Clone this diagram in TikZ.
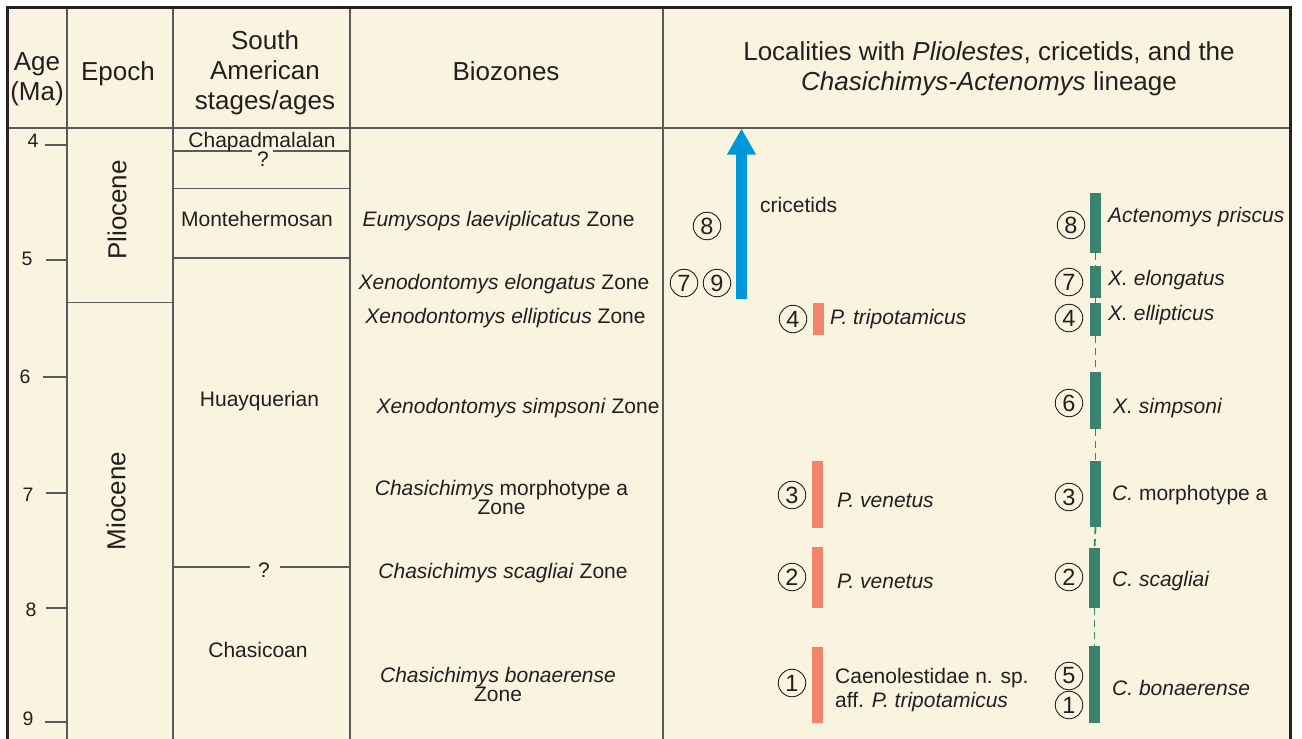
\documentclass[tikz,border=0pt]{standalone}
\usepackage{fontspec}
\setmainfont{Liberation Sans}
\usetikzlibrary{arrows.meta}
\definecolor{cream}{RGB}{249,244,224}
\definecolor{gridc}{RGB}{90,90,90}
\definecolor{framec}{RGB}{34,34,34}
\definecolor{txt}{RGB}{35,31,32}
\definecolor{salmonbar}{RGB}{243,132,106}
\definecolor{tealbar}{RGB}{58,131,113}
\definecolor{bluearrow}{RGB}{0,150,218}
\tikzset{
 hdr/.style={font=\fontsize{26}{30}\selectfont, text=txt, align=center, inner sep=0pt, anchor=base},
 body/.style={font=\fontsize{21}{21}\selectfont, text=txt, align=center, inner sep=0pt, anchor=base},
 lab/.style={font=\fontsize{21}{24}\selectfont, text=txt, align=left, inner sep=0pt, anchor=base west},
 agelab/.style={font=\fontsize{19.5}{20}\selectfont, text=txt, inner sep=0pt, anchor=base},
 circ/.style={circle, draw=txt, line width=0.9pt, minimum size=27.5pt, inner sep=0pt, font=\fontsize{23.5}{23.5}\selectfont, text=txt},
 pbar/.style={rectangle, fill=salmonbar, draw=none, minimum width=11pt, inner sep=0pt},
 cbar/.style={rectangle, fill=tealbar, draw=none, minimum width=10.5pt, inner sep=0pt},
 gridline/.style={draw=gridc, line width=1.3pt},
 lineage/.style={draw=tealbar, line width=1.8pt, dash pattern=on 7pt off 5pt},
}
\begin{document}
\begin{tikzpicture}[x=1pt,y=-1pt]
\useasboundingbox (0,0) rectangle (1302,739);
\fill[cream] (7.5,7.5) rectangle (1290.5,745);
% grid
\foreach \x in {67,173,350,663} \draw[gridline] (\x,7.5) -- (\x,745);
\draw[gridline] (7.5,128) -- (1290.5,128);
\draw[gridline] (67,302.5) -- (173,302.5);
\draw[gridline] (173,151) -- (252,151) (273,151) -- (350,151);
\draw[gridline] (173,188.5) -- (350,188.5);
\draw[gridline] (173,258) -- (350,258);
\draw[gridline] (173,567) -- (250,567) (280,567) -- (350,567);
\foreach \y/\x in {145/45,260/46,377/43,493/46,608/46,722/45} \draw[gridline] (\x,\y) -- (67,\y);
\draw[framec, line width=2.6pt] (7.5,745) -- (7.5,7.5) -- (1290.5,7.5) -- (1290.5,745);

% headers (multi-line nodes: base = last line)
\node[hdr] (hage) at (37,100) {Age\\(Ma)};
\node[hdr] (hepoch) at (118,80) {Epoch};
\node[hdr] (hstage) at (265,109) {South\\American\\stages/ages};
\node[hdr] (hbio) at (506,80) {Biozones};
\node[hdr] (hloc) at (989,90.5) {Localities with \textit{Pliolestes}, cricetids, and the\\\textit{Chasichimys-Actenomys} lineage};

% age labels
\node[agelab] (a4) at (33,147) {4};
\node[agelab] (a5) at (27,265) {5};
\node[agelab] (a6) at (25,383) {6};
\node[agelab] (a7) at (28,501) {7};
\node[agelab] (a8) at (31,616) {8};
\node[agelab] (a9) at (28,725) {9};

% epochs
\node[hdr, rotate=90, anchor=center] (plio) at (117,210) {Pliocene};
\node[hdr, rotate=90, anchor=center] (mio) at (116,501) {Miocene};

% stages
\node[body] (chap) at (262,147) {Chapadmalalan};
\node[body] (q1) at (263,166) {?};
\node[body] (monte) at (257,226) {Montehermosan};
\node[body] (huay) at (259.5,406) {Huayquerian};
\node[body] (q2) at (264,577) {?};
\node[body] (chasi) at (258,657) {Chasicoan};

% biozones
\node[body] (z1) at (498.5,226) {\textit{Eumysops laeviplicatus} Zone};
\node[body] (z2) at (504,289) {\textit{Xenodontomys elongatus} Zone};
\node[body] (z3) at (505.5,323) {\textit{Xenodontomys ellipticus} Zone};
\node[body] (z4) at (518,413) {\textit{Xenodontomys simpsoni} Zone};
\node[body] (z5) at (501.5,514.5) {\textit{Chasichimys} morphotype a\\[-2pt]Zone};
\node[body] (z6) at (503,578) {\textit{Chasichimys scagliai} Zone};
\node[body] (z7) at (498,701.5) {\textit{Chasichimys bonaerense}\\[-2pt]Zone};

% cricetids arrow
\coordinate (arrowfoot) at (741.5,299);
\coordinate (arrowtip) at (741.5,128.5);
\draw[draw=bluearrow, line width=11pt, -{Triangle[width=27pt,length=26pt,fill=bluearrow]}] (arrowfoot) -- (arrowtip);
\node[lab] (cric) at (760,212) {cricetids};
\node[circ] (l8) at (707,226) {8};
\node[circ] (l7) at (684,283) {7};
\node[circ] (l9) at (717,283) {9};

% Pliolestes
\node[pbar, minimum height=32pt] (p4) at (818.5,319) {};
\node[pbar, minimum height=67pt] (p3) at (817.5,494.5) {};
\node[pbar, minimum height=61pt] (p2) at (817.5,577.5) {};
\node[pbar, minimum height=76pt] (p1) at (817.5,685) {};
\node[circ] (l4) at (793,319) {4};
\node[circ] (l3) at (792,495) {3};
\node[circ] (l2) at (792,577) {2};
\node[circ] (l1) at (792,683) {1};
\node[lab] (tp4) at (830,324) {\textit{P. tripotamicus}};
\node[lab] (tp3) at (837,507) {\textit{P. venetus}};
\node[lab] (tp2) at (837,588) {\textit{P. venetus}};
\node[lab] (tp1) at (835,707) {Caenolestidae n. sp.\\aff. \textit{P. tripotamicus}};

% Chasichimys-Actenomys lineage
\node[cbar, minimum height=60pt] (c8) at (1095.5,223) {};
\node[cbar, minimum height=32pt] (c7) at (1095.5,282) {};
\node[cbar, minimum height=33pt] (c4) at (1095.5,319.5) {};
\node[cbar, minimum height=57pt] (c6) at (1095.5,400.5) {};
\node[cbar, minimum height=66pt] (c3) at (1095.5,494) {};
\node[cbar, minimum height=60pt] (c2) at (1094.5,578) {};
\node[cbar, minimum height=77pt] (c1) at (1094.5,684.5) {};
\draw[lineage] (c8.south) -- (c7.north);
\draw[lineage] (c7.south) -- (c4.north);
\draw[lineage] (c4.south) -- (c6.north);
\draw[lineage] (c6.south) -- (c3.north);
\draw[lineage] (c3.south) -- (c2.north);
\draw[lineage] (c2.south) -- (c1.north);
\node[circ] (r8) at (1071,225) {8};
\node[circ] (r7) at (1069,282) {7};
\node[circ] (r4) at (1069,318) {4};
\node[circ] (r6) at (1069,403) {6};
\node[circ] (r3) at (1069,497) {3};
\node[circ] (r2) at (1069,577) {2};
\node[circ] (r5) at (1069,676) {5};
\node[circ] (r1) at (1069,705) {1};
\node[lab] (t8) at (1108,222) {\textit{Actenomys priscus}};
\node[lab] (t7) at (1108,285) {\textit{X. elongatus}};
\node[lab] (t4) at (1108,320) {\textit{X. ellipticus}};
\node[lab] (t6) at (1113,413) {\textit{X. simpsoni}};
\node[lab] (t3) at (1112,500) {\textit{C.} morphotype a};
\node[lab] (t2) at (1112,586) {\textit{C. scagliai}};
\node[lab] (t1) at (1112,695) {\textit{C. bonaerense}};
\end{tikzpicture}
\end{document}
